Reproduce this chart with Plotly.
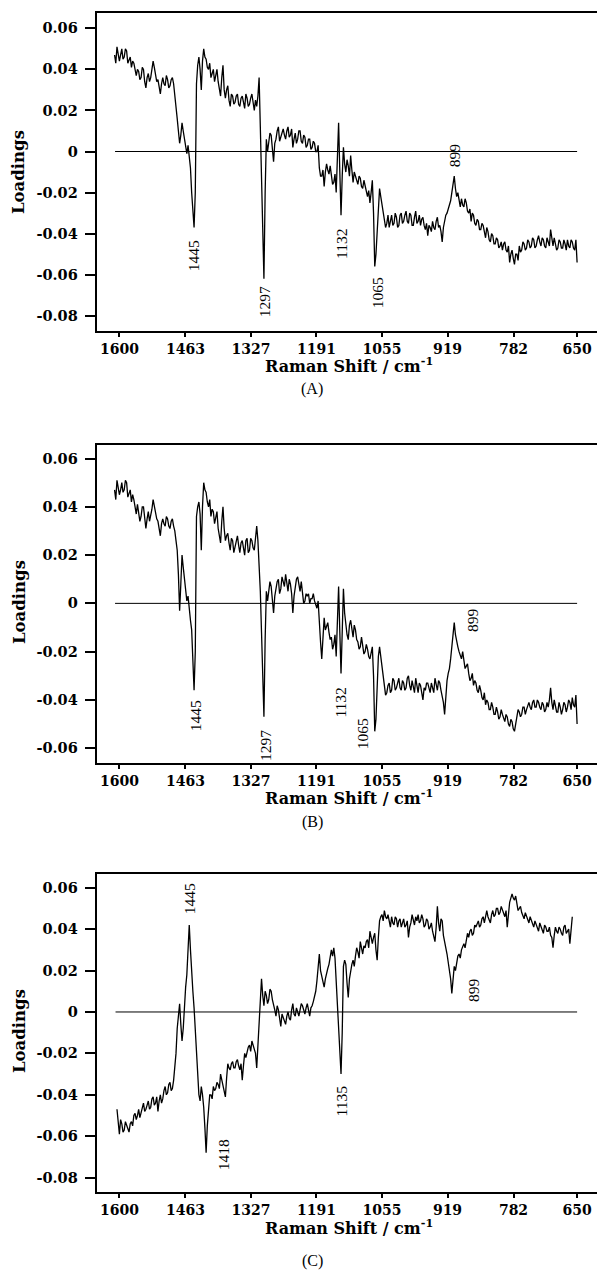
import plotly.graph_objects as go

# Raman shift grid (cm-1); readings every 5 cm-1 plus readings half-way between
wn_ab = list(range(1610, 649, -5))
wn_c = list(range(1605, 659, -5))
x_ticks = [1600, 1463, 1327, 1191, 1055, 919, 782, 650]

load_a = [
    0.047, 0.051, 0.044, 0.050, 0.046, 0.049, 0.045, 0.041, 0.043, 0.037,
    0.039, 0.036, 0.040, 0.031, 0.038, 0.036, 0.044, 0.038, 0.035, 0.028,
    0.036, 0.032, 0.035, 0.032, 0.036, 0.026, 0.016, 0.004, 0.014, 0.006,
    -0.001, -0.002, -0.020, -0.037, 0.033, 0.046, 0.030, 0.050, 0.045, 0.040,
    0.036, 0.040, 0.037, 0.034, 0.027, 0.042, 0.026, 0.032, 0.022, 0.027,
    0.024, 0.028, 0.022, 0.027, 0.021, 0.026, 0.023, 0.028, 0.020, 0.022,
    0.036, -0.010, -0.062, 0.006, 0.004, 0.008, -0.005, 0.006, 0.012, 0.007,
    0.011, 0.006, 0.012, 0.008, 0.002, 0.009, 0.006, 0.010, 0.004, 0.007,
    0.003, 0.006, 0.002, 0.004, 0.000, -0.008, -0.012, -0.017, -0.006, -0.011,
    -0.012, -0.015, -0.020, 0.014, -0.031, 0.002, -0.010, -0.007, -0.002, -0.015,
    -0.012, -0.016, -0.013, -0.018, -0.017, -0.022, -0.025, -0.014, -0.056, -0.040,
    -0.018, -0.026, -0.032, -0.035, -0.037, -0.031, -0.035, -0.032, -0.036, -0.030,
    -0.034, -0.029, -0.035, -0.031, -0.036, -0.029, -0.034, -0.036, -0.032, -0.038,
    -0.041, -0.037, -0.034, -0.038, -0.032, -0.036, -0.044, -0.033, -0.030, -0.026,
    -0.020, -0.012, -0.022, -0.024, -0.023, -0.027, -0.025, -0.030, -0.034, -0.031,
    -0.036, -0.034, -0.038, -0.036, -0.042, -0.039, -0.044, -0.041, -0.045, -0.043,
    -0.046, -0.048, -0.044, -0.049, -0.054, -0.048, -0.055, -0.050, -0.046, -0.048,
    -0.045, -0.047, -0.044, -0.046, -0.043, -0.046, -0.041, -0.046, -0.043, -0.047,
    -0.044, -0.038, -0.046, -0.045, -0.047, -0.044, -0.047, -0.045, -0.043, -0.047,
    -0.044, -0.048, -0.054,
]
mid_a = [
    0.043, 0.048, 0.047, 0.045, 0.050, 0.043, 0.046, 0.044, 0.039, 0.040,
    0.035, 0.041, 0.034, 0.036, 0.034, 0.040, 0.041, 0.034, 0.032, 0.033,
    0.033, 0.037, 0.031, 0.035, 0.033, 0.022, 0.010, 0.008, 0.010, 0.003,
    0.003, -0.008, -0.030, -0.020, 0.042, 0.040, 0.044, 0.046, 0.041, 0.043,
    0.038, 0.034, 0.040, 0.030, 0.036, 0.030, 0.030, 0.025, 0.028, 0.023,
    0.027, 0.023, 0.026, 0.024, 0.028, 0.022, 0.026, 0.024, 0.025, 0.027,
    0.012, -0.035, -0.020, 0.000, 0.009, 0.003, 0.004, 0.010, 0.005, 0.010,
    0.008, 0.010, 0.007, 0.011, 0.006, 0.004, 0.010, 0.005, 0.008, 0.002,
    0.006, 0.001, 0.005, 0.000, 0.003, -0.012, -0.009, -0.010, -0.009, -0.007,
    -0.016, -0.011, -0.004, -0.010, -0.012, -0.006, -0.004, -0.012, -0.009, -0.010,
    -0.015, -0.012, -0.017, -0.014, -0.020, -0.019, -0.020, -0.030, -0.050, -0.025,
    -0.022, -0.028, -0.037, -0.031, -0.033, -0.036, -0.030, -0.037, -0.031, -0.035,
    -0.031, -0.034, -0.030, -0.036, -0.032, -0.035, -0.031, -0.033, -0.036, -0.035,
    -0.036, -0.039, -0.037, -0.034, -0.037, -0.039, -0.037, -0.031, -0.028, -0.024,
    -0.016, -0.018, -0.020, -0.027, -0.026, -0.023, -0.029, -0.028, -0.030, -0.035,
    -0.033, -0.038, -0.035, -0.040, -0.037, -0.043, -0.040, -0.045, -0.042, -0.047,
    -0.044, -0.045, -0.048, -0.046, -0.050, -0.052, -0.050, -0.053, -0.049, -0.044,
    -0.048, -0.043, -0.047, -0.042, -0.047, -0.043, -0.044, -0.042, -0.046, -0.042,
    -0.046, -0.043, -0.042, -0.048, -0.043, -0.047, -0.043, -0.048, -0.046, -0.043,
    -0.047, -0.043,
]

load_b = [
    0.047, 0.051, 0.045, 0.050, 0.047, 0.050, 0.046, 0.042, 0.043, 0.037,
    0.038, 0.036, 0.040, 0.031, 0.038, 0.036, 0.043, 0.038, 0.034, 0.028,
    0.035, 0.032, 0.035, 0.031, 0.035, 0.030, 0.022, -0.003, 0.020, 0.010,
    0.001, -0.004, -0.011, -0.036, 0.036, 0.042, 0.022, 0.050, 0.046, 0.040,
    0.036, 0.038, 0.035, 0.031, 0.025, 0.040, 0.026, 0.029, 0.022, 0.026,
    0.023, 0.028, 0.021, 0.026, 0.020, 0.027, 0.022, 0.026, 0.022, 0.032,
    0.018, -0.012, -0.047, 0.005, 0.006, 0.007, -0.004, 0.006, 0.010, 0.006,
    0.009, 0.012, 0.005, 0.008, -0.004, 0.007, 0.011, 0.005, 0.003, 0.001,
    0.003, 0.000, 0.002, 0.001, -0.002, -0.010, -0.023, -0.006, -0.009, -0.012,
    -0.014, -0.017, -0.022, 0.007, -0.029, 0.006, -0.010, -0.015, -0.007, -0.014,
    -0.011, -0.016, -0.018, -0.017, -0.020, -0.019, -0.023, -0.018, -0.053, -0.032,
    -0.018, -0.027, -0.035, -0.037, -0.033, -0.036, -0.032, -0.035, -0.031, -0.036,
    -0.033, -0.035, -0.030, -0.036, -0.034, -0.031, -0.037, -0.034, -0.040, -0.036,
    -0.033, -0.037, -0.035, -0.031, -0.036, -0.033, -0.038, -0.046, -0.032, -0.027,
    -0.018, -0.008, -0.016, -0.020, -0.023, -0.023, -0.026, -0.029, -0.031, -0.034,
    -0.033, -0.037, -0.036, -0.040, -0.042, -0.041, -0.044, -0.043, -0.046, -0.045,
    -0.047, -0.046, -0.049, -0.047, -0.051, -0.049, -0.053, -0.047, -0.045, -0.046,
    -0.043, -0.044, -0.041, -0.044, -0.040, -0.043, -0.041, -0.044, -0.042, -0.044,
    -0.043, -0.035, -0.044, -0.042, -0.045, -0.043, -0.044, -0.042, -0.043, -0.041,
    -0.039, -0.043, -0.050,
]
mid_b = [
    0.043, 0.048, 0.047, 0.046, 0.051, 0.044, 0.047, 0.045, 0.039, 0.041,
    0.034, 0.040, 0.034, 0.035, 0.034, 0.039, 0.040, 0.035, 0.031, 0.033,
    0.033, 0.036, 0.032, 0.034, 0.032, 0.026, 0.012, 0.008, 0.015, 0.004,
    0.003, -0.007, -0.025, -0.020, 0.040, 0.037, 0.040, 0.047, 0.042, 0.043,
    0.039, 0.033, 0.038, 0.028, 0.034, 0.031, 0.028, 0.025, 0.027, 0.021,
    0.026, 0.024, 0.025, 0.023, 0.026, 0.021, 0.027, 0.023, 0.027, 0.026,
    0.005, -0.030, -0.015, 0.001, 0.009, 0.002, 0.003, 0.009, 0.004, 0.011,
    0.007, 0.009, 0.010, 0.004, 0.003, 0.010, 0.007, 0.009, 0.000, 0.004,
    0.004, 0.002, 0.004, -0.001, 0.001, -0.016, -0.012, -0.011, -0.008, -0.015,
    -0.019, -0.013, -0.008, -0.012, -0.012, -0.004, -0.013, -0.009, -0.012, -0.009,
    -0.015, -0.019, -0.014, -0.021, -0.017, -0.022, -0.020, -0.030, -0.048, -0.022,
    -0.022, -0.031, -0.038, -0.034, -0.037, -0.031, -0.036, -0.033, -0.035, -0.032,
    -0.036, -0.031, -0.034, -0.032, -0.037, -0.034, -0.033, -0.037, -0.035, -0.033,
    -0.035, -0.033, -0.037, -0.034, -0.032, -0.036, -0.041, -0.036, -0.029, -0.023,
    -0.012, -0.013, -0.018, -0.022, -0.020, -0.027, -0.025, -0.032, -0.029, -0.032,
    -0.036, -0.034, -0.039, -0.037, -0.040, -0.044, -0.041, -0.046, -0.043, -0.048,
    -0.044, -0.048, -0.046, -0.050, -0.048, -0.052, -0.050, -0.044, -0.047, -0.043,
    -0.046, -0.042, -0.043, -0.041, -0.043, -0.040, -0.043, -0.041, -0.045, -0.041,
    -0.040, -0.041, -0.040, -0.045, -0.041, -0.046, -0.041, -0.045, -0.040, -0.044,
    -0.042, -0.038,
]

load_c = [
    -0.047, -0.059, -0.054, -0.057, -0.055, -0.058, -0.053, -0.050, -0.052,
    -0.047, -0.049, -0.044, -0.047, -0.043, -0.046, -0.041, -0.044, -0.048, -0.040,
    -0.042, -0.036, -0.039, -0.034, -0.037, -0.028, -0.008, 0.004, -0.014, 0.004,
    0.018, 0.042, 0.017, 0.002, -0.022, -0.040, -0.036, -0.046, -0.068, -0.045,
    -0.040, -0.036, -0.037, -0.035, -0.030, -0.036, -0.041, -0.025, -0.028, -0.024,
    -0.027, -0.023, -0.028, -0.033, -0.020, -0.019, -0.016, -0.014, -0.017, -0.027,
    -0.006, 0.016, 0.003, 0.008, 0.006, 0.010, 0.004, -0.002, 0.001, -0.007,
    -0.003, -0.006, 0.000, -0.004, 0.004, -0.002, 0.000, 0.001, 0.003, -0.001,
    0.004, -0.002, 0.003, 0.007, 0.015, 0.028, 0.017, 0.012, 0.019, 0.023,
    0.030, 0.031, 0.015, -0.012, -0.030, 0.022, 0.023, 0.007, 0.021, 0.025,
    0.027, 0.029, 0.034, 0.028, 0.031, 0.035, 0.039, 0.033, 0.038, 0.025,
    0.044, 0.047, 0.049, 0.045, 0.044, 0.046, 0.042, 0.045, 0.044, 0.041,
    0.045, 0.042, 0.036, 0.043, 0.045, 0.046, 0.047, 0.044, 0.045, 0.042,
    0.044, 0.041, 0.039, 0.034, 0.051, 0.039, 0.044, 0.033, 0.028, 0.021,
    0.009, 0.022, 0.025, 0.028, 0.030, 0.033, 0.035, 0.036, 0.040, 0.038,
    0.041, 0.044, 0.042, 0.046, 0.047, 0.046, 0.043, 0.049, 0.047, 0.050,
    0.048, 0.049, 0.046, 0.041, 0.053, 0.057, 0.054, 0.052, 0.050, 0.048,
    0.045, 0.046, 0.043, 0.044, 0.041, 0.042, 0.039, 0.041, 0.038, 0.041,
    0.039, 0.037, 0.031, 0.041, 0.038, 0.040, 0.037, 0.042, 0.039, 0.033,
    0.046,
]
mid_c = [
    -0.055, -0.052, -0.058, -0.053, -0.057, -0.054, -0.055, -0.049, -0.050,
    -0.051, -0.046, -0.048, -0.045, -0.047, -0.042, -0.045, -0.041, -0.043, -0.044,
    -0.038, -0.040, -0.035, -0.038, -0.033, -0.020, 0.000, -0.006, -0.008, 0.012,
    0.028, 0.030, 0.010, -0.010, -0.034, -0.043, -0.040, -0.056, -0.055, -0.040,
    -0.042, -0.038, -0.034, -0.037, -0.033, -0.038, -0.032, -0.027, -0.025, -0.027,
    -0.024, -0.026, -0.025, -0.026, -0.022, -0.017, -0.019, -0.016, -0.020, -0.015,
    0.004, 0.008, 0.010, 0.004, 0.011, 0.006, 0.001, 0.003, -0.004, -0.001,
    -0.005, -0.002, -0.003, 0.001, -0.001, 0.002, -0.002, 0.004, 0.001, 0.002,
    0.001, 0.002, 0.005, 0.010, 0.022, 0.020, 0.014, 0.016, 0.021, 0.026,
    0.027, 0.026, 0.002, -0.024, -0.010, 0.025, 0.014, 0.016, 0.023, 0.022,
    0.031, 0.026, 0.030, 0.032, 0.034, 0.031, 0.036, 0.036, 0.030, 0.036,
    0.046, 0.044, 0.046, 0.047, 0.041, 0.043, 0.046, 0.041, 0.045, 0.043,
    0.041, 0.044, 0.041, 0.047, 0.042, 0.044, 0.043, 0.047, 0.041, 0.045,
    0.040, 0.043, 0.036, 0.041, 0.043, 0.045, 0.037, 0.031, 0.024, 0.016,
    0.015, 0.020, 0.027, 0.026, 0.032, 0.031, 0.038, 0.039, 0.037, 0.042,
    0.043, 0.041, 0.045, 0.043, 0.049, 0.044, 0.047, 0.046, 0.050, 0.047,
    0.051, 0.047, 0.049, 0.047, 0.055, 0.055, 0.056, 0.049, 0.051, 0.046,
    0.048, 0.044, 0.046, 0.042, 0.044, 0.040, 0.043, 0.039, 0.042, 0.039,
    0.041, 0.036, 0.037, 0.039, 0.041, 0.038, 0.041, 0.038, 0.040, 0.040,
]

# Peak labels: (panel, text, wavenumber, loading)
peak_labels = [
    (1, "1445", 1447, -0.051), (1, "1297", 1300, -0.073), (1, "1132", 1138, -0.045),
    (1, "1065", 1065, -0.069), (1, "899", 905, -0.0017),
    (2, "1445", 1443, -0.0467), (2, "1297", 1298, -0.0587), (2, "1132", 1140, -0.0411),
    (2, "1065", 1094, -0.0541), (2, "899", 867, -0.0071),
    (3, "1445", 1453, 0.0546), (3, "1418", 1384, -0.069), (3, "1135", 1140, -0.0432),
    (3, "899", 865, 0.0104),
]

panel_letters = ["(A)", "(B)", "(C)"]
y_ranges = [[-0.0874, 0.0673], [-0.0660, 0.0656], [-0.0871, 0.0665]]
y_tickvals = [
    [0.06, 0.04, 0.02, 0, -0.02, -0.04, -0.06, -0.08],
    [0.06, 0.04, 0.02, 0, -0.02, -0.04, -0.06],
    [0.06, 0.04, 0.02, 0, -0.02, -0.04, -0.06, -0.08],
]
y_ticktext = [[("0" if v == 0 else ("%.2f" % v)) for v in tv] for tv in y_tickvals]


def merge(xs, grid_vals, mid_vals):
    ox, oy = [], []
    for j in range(len(grid_vals)):
        ox.append(xs[j])
        oy.append(grid_vals[j])
        if j < len(mid_vals) and j < len(grid_vals) - 1:
            ox.append(xs[j] - 2.5)
            oy.append(mid_vals[j])
    return ox, oy


H = 1271.0
W = 597.0
# panel placement (top, bottom) in pixels
panel_px = [(13.3, 331.0), (445.0, 762.7), (874.3, 1192.3)]
left_px = 96.7
xlabel_px = [365, 797, 1227]
letter_px = [389, 822, 1261]
ylabel_px = [172, 602, 1031]

fig = go.Figure()
series = [merge(wn_ab, load_a, mid_a), merge(wn_ab, load_b, mid_b), merge(wn_c, load_c, mid_c)]
zero_x = [[1609, 650], [1609, 650], [1608, 650]]

tick_font = dict(family="DejaVu Serif", size=14, color="black", weight="bold")
ytick_font = dict(family="DejaVu Serif", size=14.5, color="black", weight="bold")

annotations = []
for i, (xs, ys) in enumerate(series):
    k = "" if i == 0 else str(i + 1)
    fig.add_trace(go.Scatter(x=zero_x[i], y=[0, 0], mode="lines",
                             line=dict(color="black", width=1),
                             xaxis="x" + k, yaxis="y" + k, hoverinfo="skip"))
    fig.add_trace(go.Scatter(x=xs, y=ys, mode="lines",
                             line=dict(color="black", width=1.3),
                             xaxis="x" + k, yaxis="y" + k))
    top, bot = panel_px[i]
    dom = [1 - bot / H, 1 - top / H]
    fig.update_layout(**{
        "xaxis" + k: dict(domain=[left_px / W, 1.0], range=[1647.1, 608.7],
                          anchor="y" + k, tickvals=x_ticks,
                          ticktext=[str(t) for t in x_ticks],
                          ticks="outside", ticklen=4, tickwidth=1.5, tickcolor="black",
                          showline=True, linecolor="black", linewidth=2, mirror=True,
                          showgrid=False, zeroline=False, tickfont=tick_font),
        "yaxis" + k: dict(domain=dom, range=y_ranges[i], anchor="x" + k,
                          tickvals=y_tickvals[i], ticktext=y_ticktext[i],
                          ticks="outside", ticklen=10, tickwidth=1.5, tickcolor="black",
                          ticklabelstandoff=4,
                          showline=True, linecolor="black", linewidth=2,
                          showgrid=False, zeroline=False, tickfont=ytick_font),
    })
    annotations.append(dict(text="Loadings", xref="paper", yref="paper",
                            x=19 / W, y=1 - ylabel_px[i] / H, textangle=-90,
                            xanchor="center", yanchor="middle", showarrow=False,
                            font=dict(family="DejaVu Serif", size=16.5, color="black", weight="bold")))
    annotations.append(dict(text="Raman Shift / cm<sup>-1</sup>", xref="paper", yref="paper",
                            x=349 / W, y=1 - xlabel_px[i] / H, showarrow=False,
                            xanchor="center", yanchor="middle",
                            font=dict(family="DejaVu Serif", size=16, color="black", weight="bold")))
    annotations.append(dict(text=panel_letters[i], xref="paper", yref="paper",
                            x=312 / W, y=1 - letter_px[i] / H, showarrow=False,
                            xanchor="center", yanchor="middle",
                            font=dict(family="Liberation Serif", size=16, color="black")))

for p, txt, xv, yv in peak_labels:
    k = "" if p == 1 else str(p)
    annotations.append(dict(text=txt, xref="x" + k, yref="y" + k, x=xv, y=yv,
                            textangle=-90, showarrow=False,
                            xanchor="center", yanchor="middle",
                            font=dict(family="Liberation Serif", size=15.5, color="black")))

fig.update_layout(width=597, height=1271, margin=dict(l=0, r=0, t=0, b=0),
                  plot_bgcolor="white", paper_bgcolor="white", showlegend=False,
                  annotations=annotations)

fig.write_html("out.html")
